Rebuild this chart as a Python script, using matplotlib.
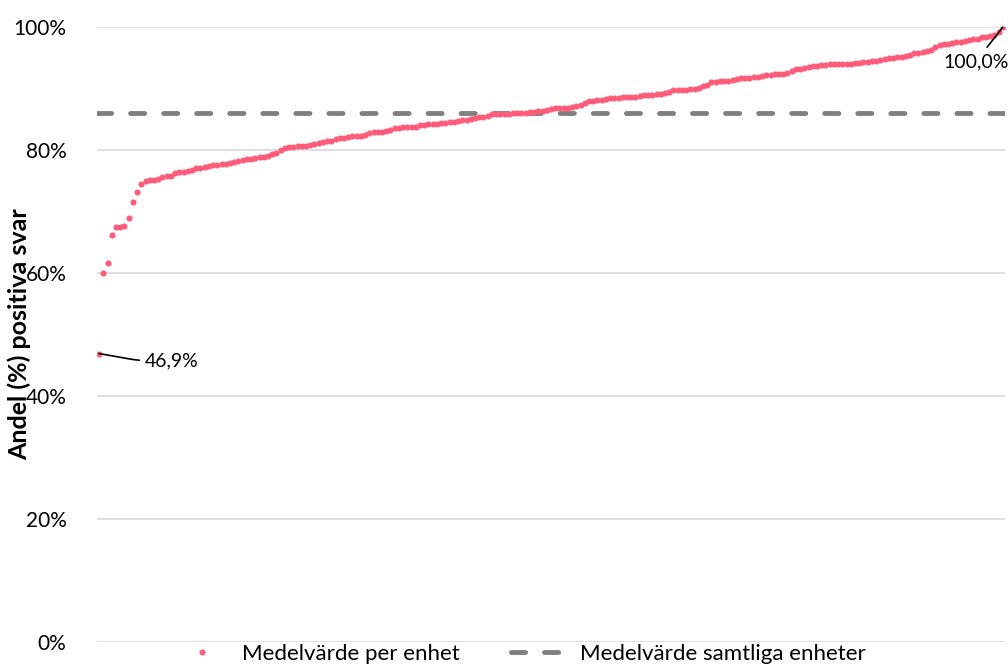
import matplotlib.pyplot as plt
import numpy as np
from matplotlib.ticker import PercentFormatter

plt.rcParams["font.family"] = ["Lato", "DejaVu Sans"]

# Andel positiva svar per enhet (%), sorterat stigande
unit_values = [
    46.9, 60.0, 61.7, 66.2, 67.4, 67.5, 67.6, 69.0, 71.5, 73.2,
    74.4, 75.0, 75.1, 75.1, 75.3, 75.6, 75.7, 75.8, 76.2, 76.4,
    76.5, 76.6, 76.8, 77.0, 77.1, 77.2, 77.4, 77.5, 77.6, 77.7,
    77.8, 77.9, 78.0, 78.2, 78.4, 78.5, 78.6, 78.7, 78.8, 78.9,
    79.1, 79.3, 79.5, 80.0, 80.3, 80.5, 80.5, 80.6, 80.6, 80.7,
    80.8, 80.9, 81.1, 81.3, 81.4, 81.5, 81.8, 82.0, 82.0, 82.1,
    82.2, 82.2, 82.3, 82.5, 82.7, 82.9, 83.0, 83.0, 83.1, 83.2,
    83.5, 83.6, 83.7, 83.7, 83.8, 83.8, 84.0, 84.1, 84.2, 84.2,
    84.3, 84.4, 84.4, 84.5, 84.6, 84.7, 84.8, 84.9, 85.0, 85.2,
    85.3, 85.4, 85.5, 85.8, 85.8, 85.8, 85.9, 85.9, 86.0, 86.0,
    86.1, 86.1, 86.2, 86.2, 86.3, 86.4, 86.5, 86.7, 86.8, 86.8,
    86.9, 86.9, 87.0, 87.1, 87.3, 87.6, 87.9, 88.0, 88.1, 88.2,
    88.3, 88.4, 88.5, 88.5, 88.6, 88.6, 88.7, 88.7, 88.8, 88.9,
    89.0, 89.0, 89.1, 89.1, 89.2, 89.4, 89.7, 89.8, 89.8, 89.8,
    89.9, 89.9, 90.1, 90.4, 90.6, 91.0, 91.1, 91.2, 91.2, 91.3,
    91.4, 91.6, 91.7, 91.7, 91.7, 91.8, 91.9, 92.1, 92.2, 92.2,
    92.3, 92.3, 92.4, 92.5, 92.9, 93.1, 93.2, 93.4, 93.5, 93.6,
    93.7, 93.8, 93.9, 94.0, 94.0, 94.0, 94.0, 94.0, 94.0, 94.1,
    94.2, 94.3, 94.3, 94.4, 94.5, 94.6, 94.8, 94.9, 95.0, 95.1,
    95.2, 95.3, 95.5, 95.7, 95.8, 96.0, 96.1, 96.2, 96.7, 97.1,
    97.2, 97.3, 97.4, 97.5, 97.6, 97.7, 97.9, 98.0, 98.1, 98.3,
    98.4, 98.5, 98.7, 99.2, 100.0,
]
overall_mean = 86.1
y_ticks = [0, 20, 40, 60, 80, 100]

point_color = "#ff5c7a"
line_color = "#808080"

fig = plt.figure(figsize=(10.08, 6.69), dpi=100)
ax = fig.add_axes([0.0962, 0.0404, 0.9008, 0.9192])

n = len(unit_values)
x = np.arange(n) + 0.5
vals = np.array(unit_values)

ax.plot(x, vals, linestyle="none", marker="o", markersize=4.4,
        color=point_color, markeredgewidth=0, label="Medelvärde per enhet", zorder=3)
ax.plot([0, n], [overall_mean, overall_mean], color=line_color, linewidth=3.5,
        dashes=(2.9, 3.9), dash_capstyle="round",
        label="Medelvärde samtliga enheter", zorder=2)

ax.set_xlim(0, n)
ax.set_ylim(0, 100)
ax.set_yticks(y_ticks)
ax.yaxis.set_major_formatter(PercentFormatter(decimals=0))
ax.tick_params(axis="y", length=0, labelsize=15, pad=22)
ax.tick_params(axis="x", bottom=False, labelbottom=False)
ax.grid(axis="y", color="#d9d9d9", linewidth=1.2)
ax.set_axisbelow(True)
for s in ax.spines.values():
    s.set_visible(False)

ax.set_ylabel("Andel (%) positiva svar", fontsize=18, fontweight="bold")
ax.yaxis.set_label_coords(-0.072, 0.5)

# data labels with leader lines
ax.annotate("46,9%", xy=(x[0], vals[0]), xytext=(33, -5), textcoords="offset points",
            fontsize=14, va="center", ha="left",
            arrowprops=dict(arrowstyle="-", color="black", lw=1.2,
                            shrinkA=2, shrinkB=0,
                            connectionstyle="angle,angleA=0,angleB=-10,rad=8"))
ax.annotate("100,0%", xy=(x[-1], vals[-1]), xytext=(4, -25), textcoords="offset points",
            fontsize=14, va="center", ha="right",
            arrowprops=dict(arrowstyle="-", color="black", lw=1.2,
                            shrinkA=3, shrinkB=0))

fig.legend(loc="lower center", bbox_to_anchor=(0.515, -0.022), ncol=2, frameon=False,
           fontsize=16, handlelength=2.6, columnspacing=2.3, handletextpad=0.5)

fig.savefig("out.png", dpi=100)
